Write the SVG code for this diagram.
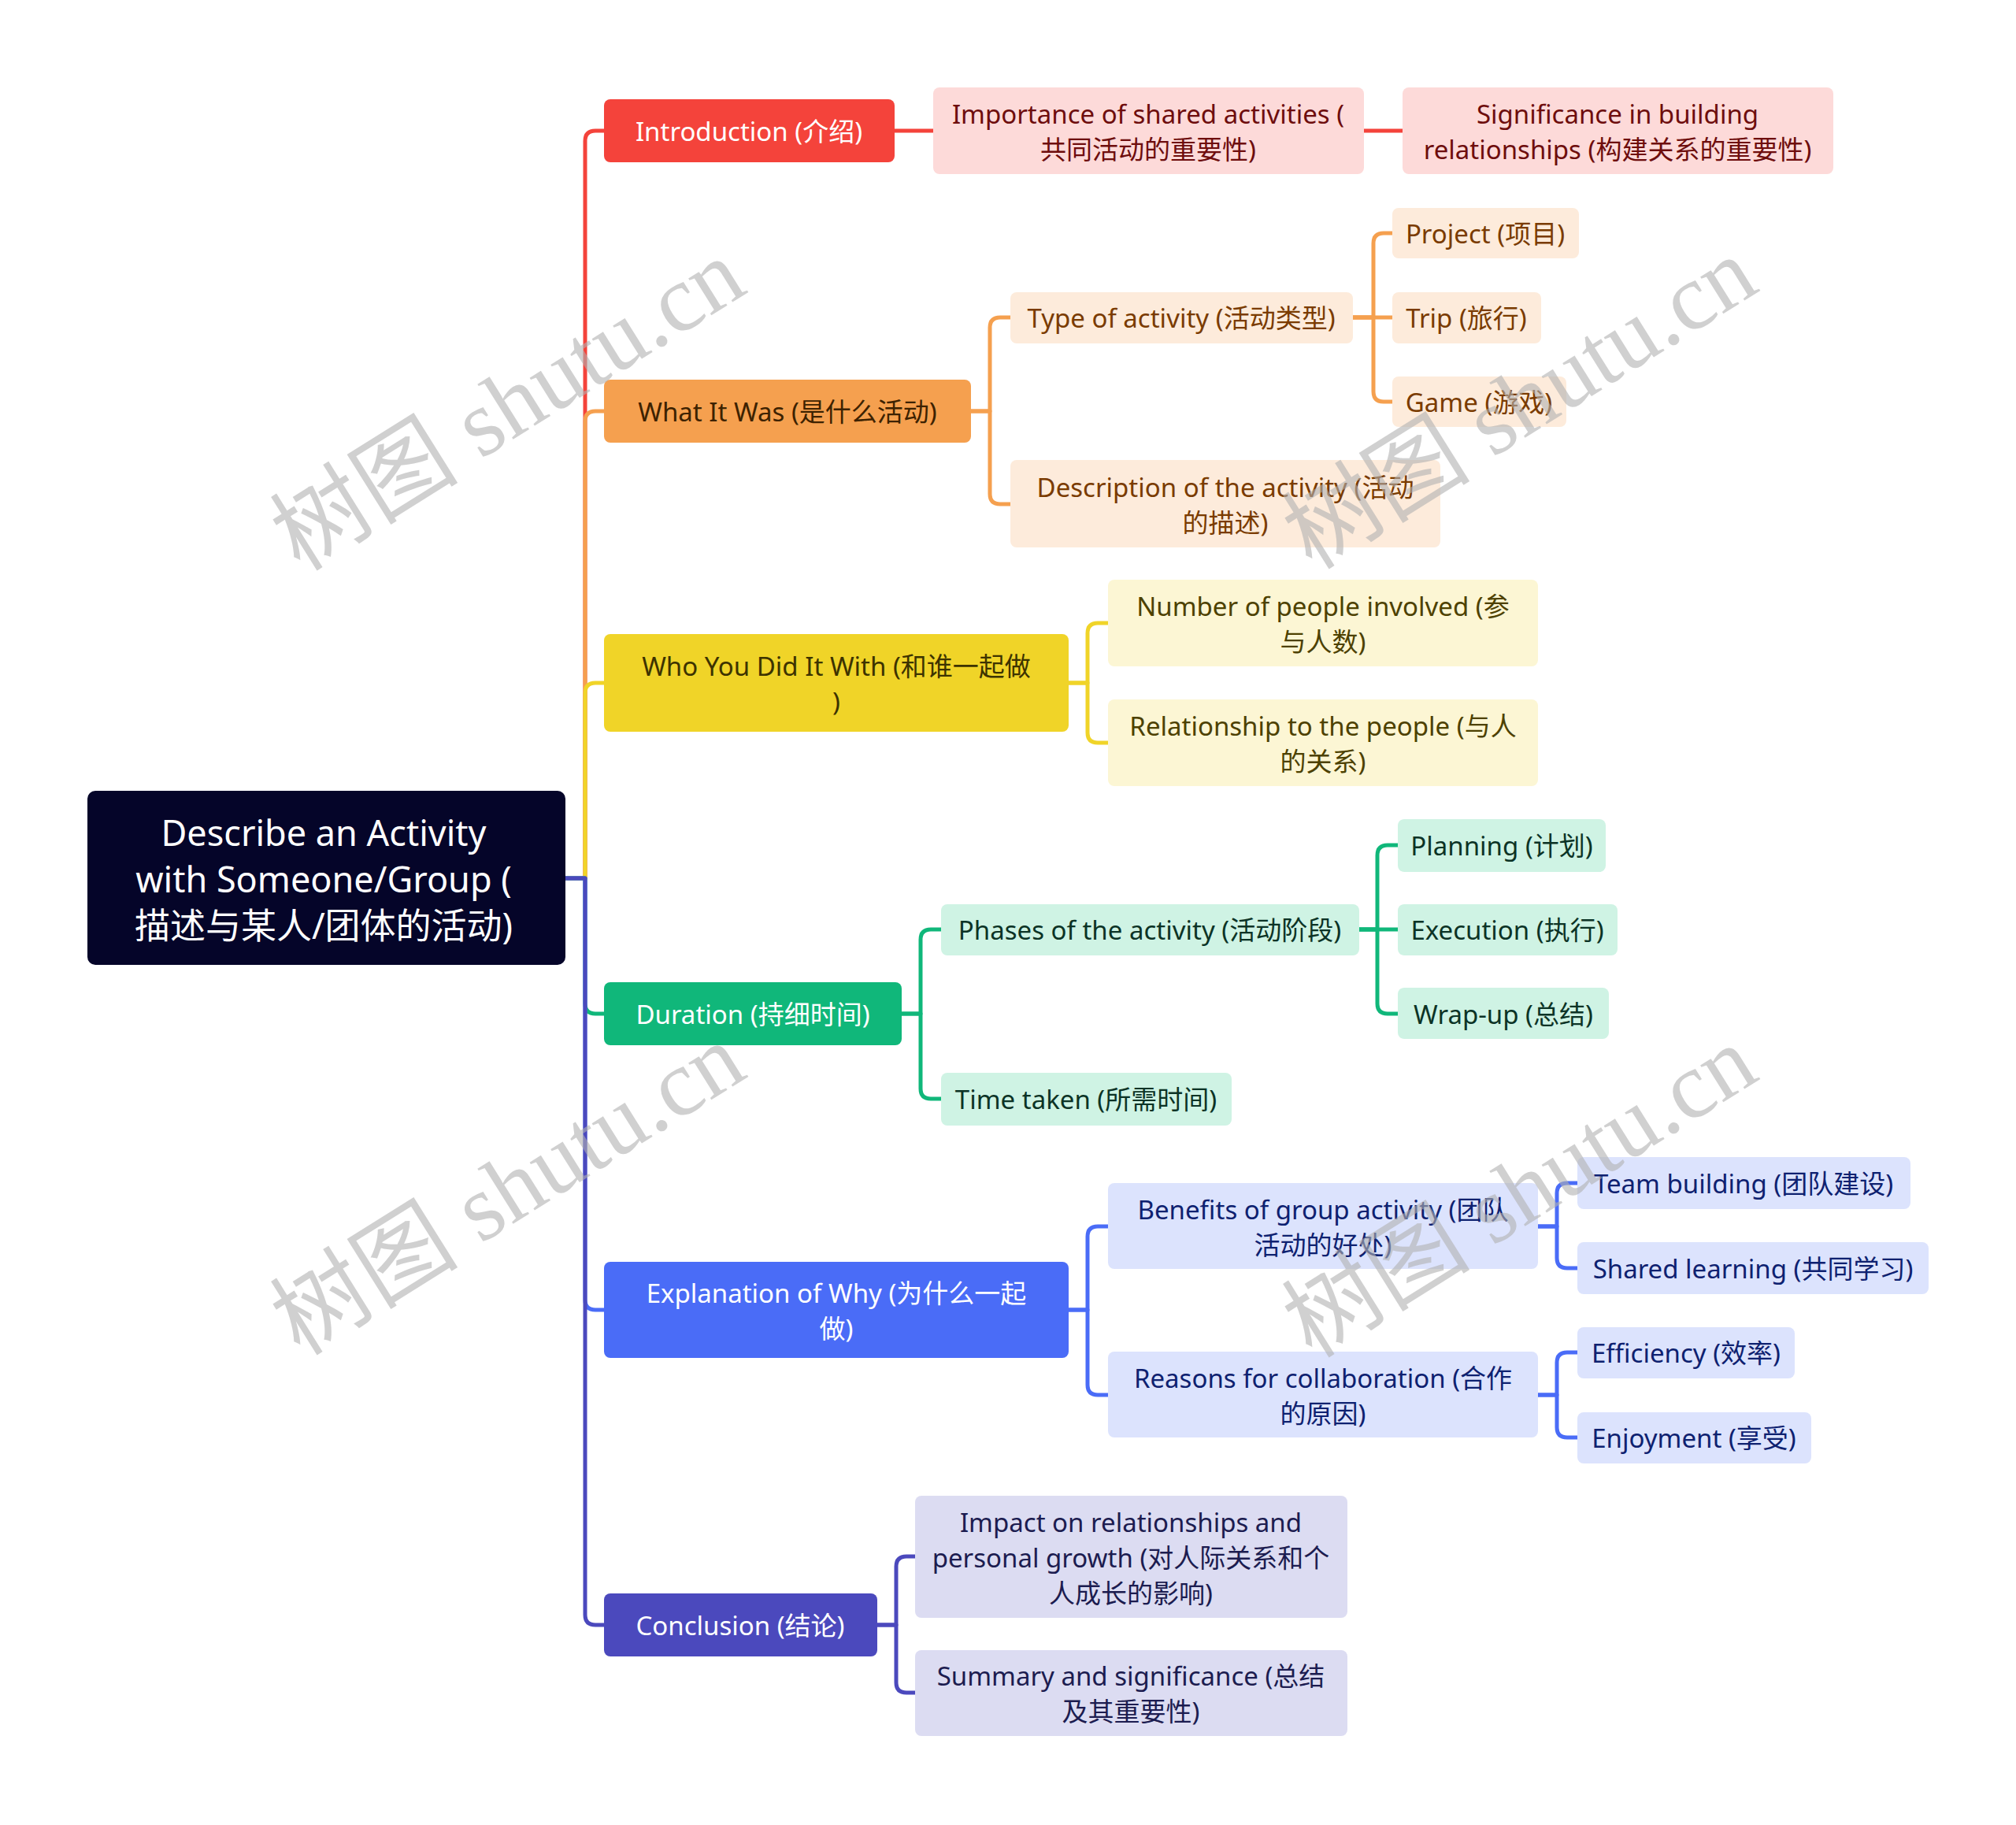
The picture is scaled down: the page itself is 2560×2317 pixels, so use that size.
<svg xmlns="http://www.w3.org/2000/svg" width="2560" height="2317" viewBox="0 0 2560 2317">
<style>
text{font-family:"Noto Sans","Noto Sans CJK SC",sans-serif;font-size:33px;text-anchor:middle;dominant-baseline:central}
.root text{font-size:45px;fill:#ffffff}
.w{fill:#ffffff}
.c{fill:none;stroke-width:5;stroke-linejoin:round;stroke-linecap:butt}
.red{stroke:#f4433b}.org{stroke:#f5a04f}.yel{stroke:#f0d428}.grn{stroke:#10b77a}.blu{stroke:#4a6cf7}.pur{stroke:#4b49bd}
.wm{font-family:"Liberation Serif","Noto Sans CJK SC",serif;font-size:120px;fill:#b0b0b0;fill-opacity:0.6;text-anchor:middle}
</style>
<rect width="2560" height="2317" fill="#ffffff"/>
<g id="connectors">
<path class="c red" d="M718,1115 H743 V179 Q743,166 756,166 H767"/>
<path class="c org" d="M718,1115 H743 V535 Q743,522 756,522 H767"/>
<path class="c yel" d="M718,1115 H743 V880 Q743,867 756,867 H767"/>
<path class="c grn" d="M718,1115 H743 V1274 Q743,1287 756,1287 H767"/>
<path class="c blu" d="M718,1115 H743 V1650 Q743,1663 756,1663 H767"/>
<path class="c pur" d="M718,1115 H743 V2050 Q743,2063 756,2063 H767"/>
<path class="c red" d="M1136,166 H1185"/>
<path class="c red" d="M1732,166 H1781"/>
<path class="c org" d="M1233,522 H1257 V416 Q1257,403 1270,403 H1283"/>
<path class="c org" d="M1233,522 H1257 V627 Q1257,640 1270,640 H1283"/>
<path class="c org" d="M1718,403 H1744 V309 Q1744,296 1757,296 H1768"/>
<path class="c org" d="M1718,403 H1768"/>
<path class="c org" d="M1718,403 H1744 V497 Q1744,510 1757,510 H1768"/>
<path class="c yel" d="M1357,867 H1381 V804 Q1381,791 1394,791 H1407"/>
<path class="c yel" d="M1357,867 H1381 V930 Q1381,943 1394,943 H1407"/>
<path class="c grn" d="M1145,1287 H1169 V1193 Q1169,1180 1182,1180 H1195"/>
<path class="c grn" d="M1145,1287 H1169 V1382 Q1169,1395 1182,1395 H1195"/>
<path class="c grn" d="M1726,1180 H1749 V1086 Q1749,1073 1762,1073 H1775"/>
<path class="c grn" d="M1726,1180 H1775"/>
<path class="c grn" d="M1726,1180 H1749 V1274 Q1749,1287 1762,1287 H1775"/>
<path class="c blu" d="M1357,1663 H1381 V1570 Q1381,1557 1394,1557 H1407"/>
<path class="c blu" d="M1357,1663 H1381 V1758 Q1381,1771 1394,1771 H1407"/>
<path class="c blu" d="M1953,1557 H1977 V1515 Q1977,1502 1990,1502 H2003"/>
<path class="c blu" d="M1953,1557 H1977 V1597 Q1977,1610 1990,1610 H2003"/>
<path class="c blu" d="M1953,1771 H1977 V1730 Q1977,1717 1990,1717 H2003"/>
<path class="c blu" d="M1953,1771 H1977 V1812 Q1977,1825 1990,1825 H2003"/>
<path class="c pur" d="M1114,2063 H1138 V1989 Q1138,1976 1151,1976 H1162"/>
<path class="c pur" d="M1114,2063 H1138 V2136 Q1138,2149 1151,2149 H1162"/>
</g>
<g id="root" class="root">
<rect x="111" y="1004" width="607" height="221" rx="10" fill="#050529"/>
<text x="411" y="1056">Describe an Activity</text>
<text x="411" y="1115">with Someone/Group (</text>
<text x="411" y="1174">描述与某人/团体的活动)</text>
</g>
<g id="introduction">
<rect x="767" y="126" width="369" height="80" rx="8" fill="#f4433b"/>
<text class="w" x="951" y="166">Introduction (介绍)</text>
</g>
<g id="importance">
<rect x="1185" y="111" width="547" height="110" rx="8" fill="#fddad9"/>
<text x="1458" y="144" fill="#6e0d0d">Importance of shared activities (</text>
<text x="1458" y="189" fill="#6e0d0d">共同活动的重要性)</text>
</g>
<g id="significance">
<rect x="1781" y="111" width="547" height="110" rx="8" fill="#fddad9"/>
<text x="2054" y="144" fill="#6e0d0d">Significance in building</text>
<text x="2054" y="189" fill="#6e0d0d">relationships (构建关系的重要性)</text>
</g>
<g id="what">
<rect x="767" y="482" width="466" height="80" rx="8" fill="#f5a04f"/>
<text x="1000" y="522" fill="#3d2200">What It Was (是什么活动)</text>
</g>
<g id="type">
<rect x="1283" y="371" width="435" height="65" rx="8" fill="#fdebdb"/>
<text x="1500" y="403" fill="#7a3b00">Type of activity (活动类型)</text>
</g>
<g id="project">
<rect x="1768" y="264" width="237" height="64" rx="8" fill="#fdebdb"/>
<text x="1886" y="296" fill="#7a3b00">Project (项目)</text>
</g>
<g id="trip">
<rect x="1768" y="371" width="189" height="65" rx="8" fill="#fdebdb"/>
<text x="1862" y="403" fill="#7a3b00">Trip (旅行)</text>
</g>
<g id="game">
<rect x="1768" y="478" width="221" height="64" rx="8" fill="#fdebdb"/>
<text x="1878" y="510" fill="#7a3b00">Game (游戏)</text>
</g>
<g id="description">
<rect x="1283" y="584" width="546" height="111" rx="8" fill="#fdebdb"/>
<text x="1556" y="618" fill="#7a3b00">Description of the activity (活动</text>
<text x="1556" y="663" fill="#7a3b00">的描述)</text>
</g>
<g id="who">
<rect x="767" y="805" width="590" height="124" rx="8" fill="#f0d428"/>
<text x="1062" y="845" fill="#3d3300">Who You Did It With (和谁一起做</text>
<text x="1062" y="890" fill="#3d3300">)</text>
</g>
<g id="number">
<rect x="1407" y="736" width="546" height="110" rx="8" fill="#fcf6d4"/>
<text x="1680" y="769" fill="#4d4100">Number of people involved (参</text>
<text x="1680" y="814" fill="#4d4100">与人数)</text>
</g>
<g id="relationship">
<rect x="1407" y="888" width="546" height="110" rx="8" fill="#fcf6d4"/>
<text x="1680" y="921" fill="#4d4100">Relationship to the people (与人</text>
<text x="1680" y="966" fill="#4d4100">的关系)</text>
</g>
<g id="duration">
<rect x="767" y="1247" width="378" height="80" rx="8" fill="#10b77a"/>
<text class="w" x="956" y="1287">Duration (持细时间)</text>
</g>
<g id="phases">
<rect x="1195" y="1148" width="531" height="65" rx="8" fill="#cff3e4"/>
<text x="1460" y="1180" fill="#0c3326">Phases of the activity (活动阶段)</text>
</g>
<g id="planning">
<rect x="1775" y="1040" width="264" height="67" rx="8" fill="#cff3e4"/>
<text x="1907" y="1073" fill="#0c3326">Planning (计划)</text>
</g>
<g id="execution">
<rect x="1775" y="1148" width="279" height="65" rx="8" fill="#cff3e4"/>
<text x="1914" y="1180" fill="#0c3326">Execution (执行)</text>
</g>
<g id="wrapup">
<rect x="1775" y="1254" width="268" height="65" rx="8" fill="#cff3e4"/>
<text x="1909" y="1287" fill="#0c3326">Wrap-up (总结)</text>
</g>
<g id="time">
<rect x="1195" y="1362" width="369" height="67" rx="8" fill="#cff3e4"/>
<text x="1379" y="1395" fill="#0c3326">Time taken (所需时间)</text>
</g>
<g id="explanation">
<rect x="767" y="1602" width="590" height="122" rx="8" fill="#4a6cf7"/>
<text class="w" x="1062" y="1641">Explanation of Why (为什么一起</text>
<text class="w" x="1062" y="1686">做)</text>
</g>
<g id="benefits">
<rect x="1407" y="1502" width="546" height="109" rx="8" fill="#dce3fd"/>
<text x="1680" y="1535" fill="#0e2170">Benefits of group activity (团队</text>
<text x="1680" y="1580" fill="#0e2170">活动的好处)</text>
</g>
<g id="team">
<rect x="2003" y="1469" width="423" height="66" rx="8" fill="#dce3fd"/>
<text x="2214" y="1502" fill="#0e2170">Team building (团队建设)</text>
</g>
<g id="shared">
<rect x="2003" y="1577" width="446" height="66" rx="8" fill="#dce3fd"/>
<text x="2226" y="1610" fill="#0e2170">Shared learning (共同学习)</text>
</g>
<g id="reasons">
<rect x="1407" y="1716" width="546" height="109" rx="8" fill="#dce3fd"/>
<text x="1680" y="1749" fill="#0e2170">Reasons for collaboration (合作</text>
<text x="1680" y="1794" fill="#0e2170">的原因)</text>
</g>
<g id="efficiency">
<rect x="2003" y="1685" width="276" height="65" rx="8" fill="#dce3fd"/>
<text x="2141" y="1717" fill="#0e2170">Efficiency (效率)</text>
</g>
<g id="enjoyment">
<rect x="2003" y="1793" width="297" height="65" rx="8" fill="#dce3fd"/>
<text x="2151" y="1825" fill="#0e2170">Enjoyment (享受)</text>
</g>
<g id="conclusion">
<rect x="767" y="2023" width="347" height="80" rx="8" fill="#4b49bd"/>
<text class="w" x="940" y="2063">Conclusion (结论)</text>
</g>
<g id="impact">
<rect x="1162" y="1899" width="549" height="155" rx="8" fill="#dcdcf2"/>
<text x="1436" y="1932" fill="#1c1c50">Impact on relationships and</text>
<text x="1436" y="1977" fill="#1c1c50">personal growth (对人际关系和个</text>
<text x="1436" y="2022" fill="#1c1c50">人成长的影响)</text>
</g>
<g id="summary">
<rect x="1162" y="2095" width="549" height="109" rx="8" fill="#dcdcf2"/>
<text x="1436" y="2127" fill="#1c1c50">Summary and significance (总结</text>
<text x="1436" y="2172" fill="#1c1c50">及其重要性)</text>
</g>
<g id="watermarks">
<text class="wm" transform="translate(645,514) rotate(-32)">树图 shutu.cn</text>
<text class="wm" transform="translate(1930,512) rotate(-32)">树图 shutu.cn</text>
<text class="wm" transform="translate(645,1510) rotate(-32)">树图 shutu.cn</text>
<text class="wm" transform="translate(1930,1513) rotate(-32)">树图 shutu.cn</text>
</g>
</svg>
